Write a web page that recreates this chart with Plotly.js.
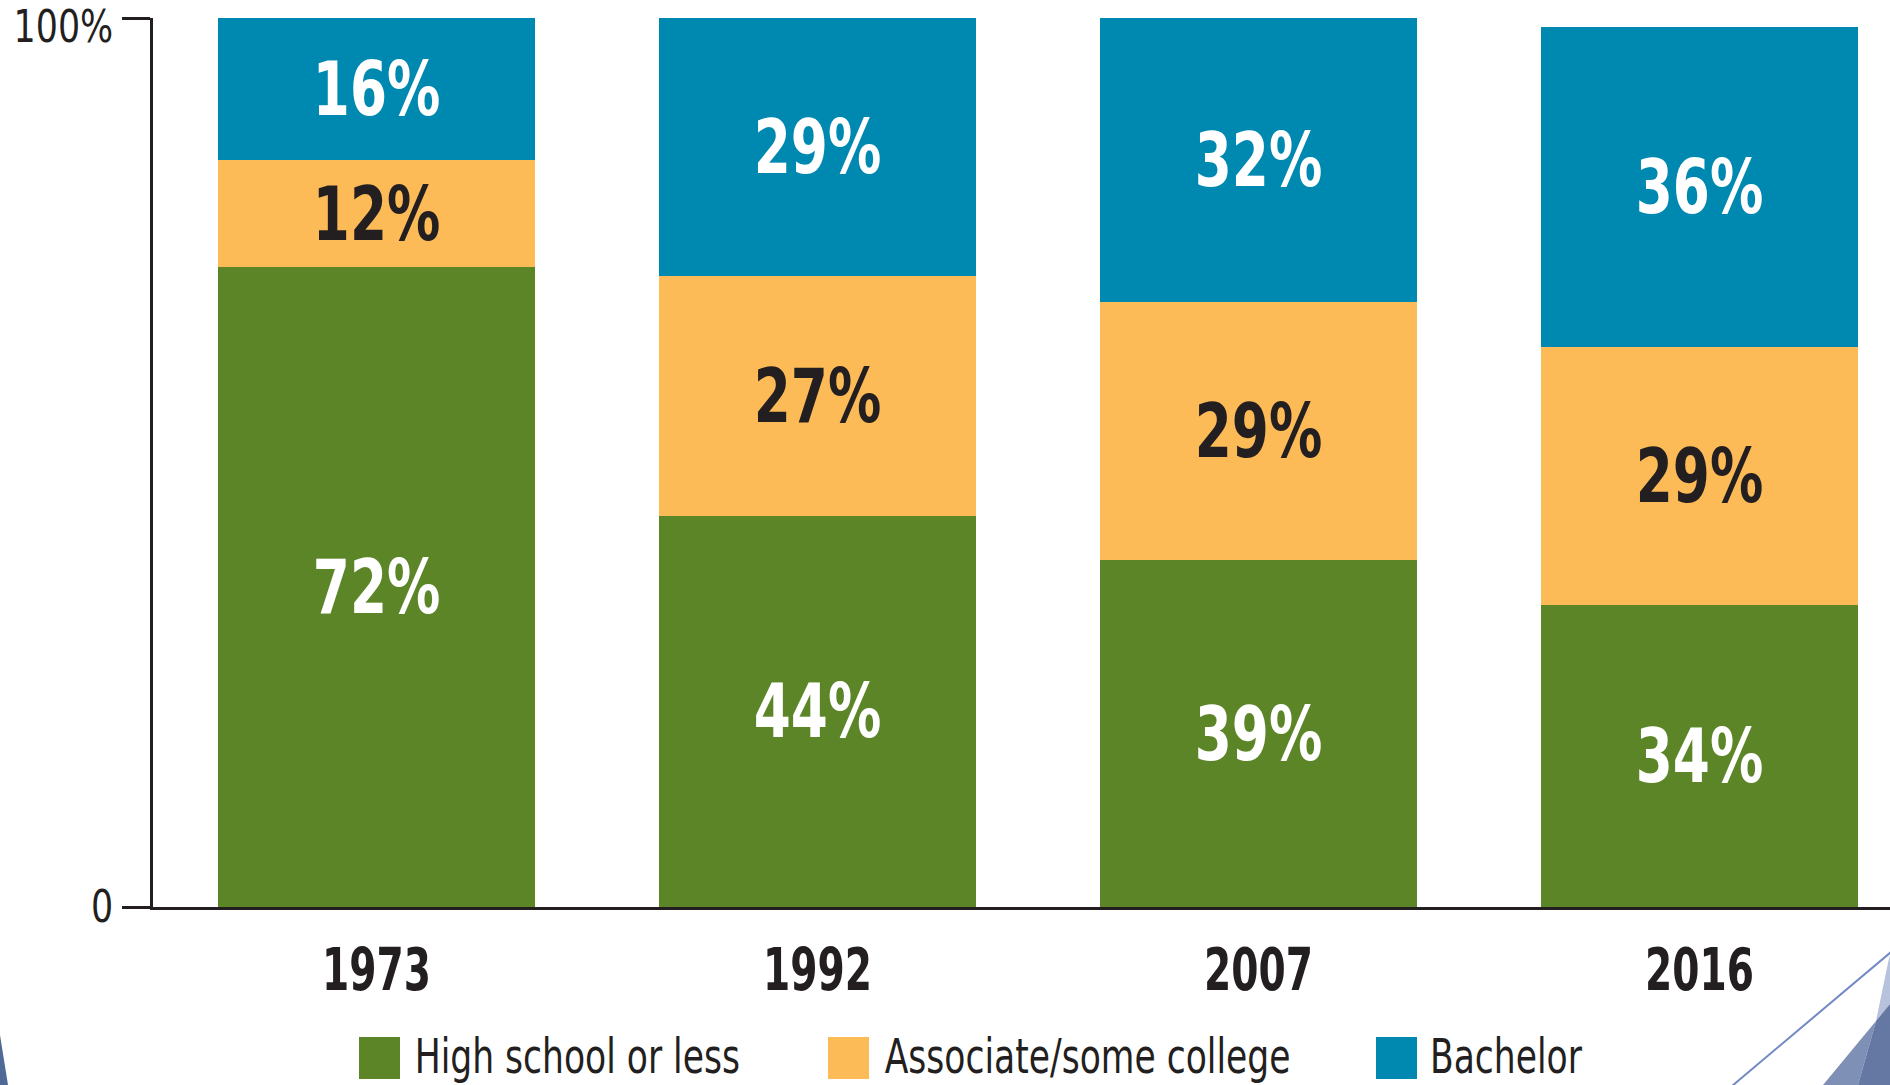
<!DOCTYPE html>
<html>
<head>
<meta charset="utf-8">
<script src="https://cdn.plot.ly/plotly-3.0.1.min.js"></script>
<style>
  html, body { margin: 0; padding: 0; background: #ffffff; }
  #chart { width: 1890px; height: 1085px; }
</style>
</head>
<body>
<div id="chart"></div>
<script>
// ---- data ----
var years = ['1973', '1992', '2007', '2016'];
var seriesNames = ['High school or less', 'Associate/some college', 'Bachelor'];
var highSchool = [72, 44, 39, 34];
var associate = [12, 27, 29, 29];
var bachelor = [16, 29, 32, 36];
var yTickVals = [0, 100];
var yTickText = ['0', '100%'];

// ---- styles ----
var colors = ['#5c8527', '#fcbb57', '#0089b0'];
var labelColors = ['#ffffff', '#231f20', '#ffffff'];
var ink = '#231f20';
var narrow = '"Liberation Sans Narrow", "Arial Narrow", "DejaVu Sans Condensed", sans-serif';

var W = 1890, H = 1085;
var M = { l: 153, r: 0, t: 18, b: 178 };
var plotW = W - M.l - M.r, plotH = H - M.t - M.b;
function px(x) { return (x - M.l) / plotW; }
function py(y) { return (H - M.b - y) / plotH; }

var seriesValues = [highSchool, associate, bachelor];
var traces = seriesValues.map(function (vals, i) {
  return {
    type: 'bar',
    name: seriesNames[i],
    x: years,
    y: vals,
    marker: { color: colors[i], line: { width: 0 } },
    texttemplate: '%{y}%',
    textposition: 'inside',
    insidetextanchor: 'middle',
    textangle: 0,
    constraintext: 'none',
    textfont: { family: narrow, size: 74, color: labelColors[i], weight: 'bold' },
    hoverinfo: 'skip'
  };
});

// legend built from the series names / colours
var legendSwatchX = [359, 828, 1376];
var legendTextCenter = [577, 1087, 1506];
var shapes = [];
var annotations = [];
seriesNames.forEach(function (name, i) {
  var x0 = legendSwatchX[i];
  shapes.push({
    type: 'rect', xref: 'paper', yref: 'paper',
    x0: px(x0), x1: px(x0 + 41), y0: py(1079), y1: py(1037),
    fillcolor: colors[i], line: { width: 0 }, layer: 'above'
  });
  annotations.push({
    xref: 'paper', yref: 'paper', x: px(legendTextCenter[i]), y: py(1056),
    xanchor: 'center', yanchor: 'middle', showarrow: false,
    text: name,
    font: { family: narrow, size: 48, color: ink }
  });
});

// decorative slide corners
function pathFrom(pts) {
  return 'M' + pts.map(function (p) { return px(p[0]) + ',' + py(p[1]); }).join('L') + 'Z';
}
shapes.push({ type: 'path', xref: 'paper', yref: 'paper', path: pathFrom([[0, 1035], [8, 1085], [0, 1085]]), fillcolor: '#4f6a96', line: { width: 0 } });
shapes.push({ type: 'path', xref: 'paper', yref: 'paper', path: pathFrom([[1823, 1085], [1876, 1021], [1858, 1085]]), fillcolor: '#7f90b6', line: { width: 0 } });
shapes.push({ type: 'path', xref: 'paper', yref: 'paper', path: pathFrom([[1876, 1021], [1888, 963], [1890, 955], [1890, 1004]]), fillcolor: '#b7c2dd', line: { width: 0 } });
shapes.push({ type: 'path', xref: 'paper', yref: 'paper', path: pathFrom([[1858, 1085], [1876, 1021], [1890, 1004], [1890, 1085]]), fillcolor: '#6577a3', line: { width: 0 } });
shapes.push({ type: 'line', xref: 'paper', yref: 'paper', x0: px(1732), y0: py(1086), x1: px(1891), y1: py(952), line: { color: '#7189c4', width: 2 } });

var layout = {
  width: W, height: H,
  margin: { l: M.l, r: M.r, t: M.t, b: M.b, pad: 0 },
  paper_bgcolor: '#ffffff',
  plot_bgcolor: '#ffffff',
  barmode: 'stack',
  bargap: 0.281,
  showlegend: false,
  xaxis: {
    type: 'category',
    range: [-0.507, 3.432],
    showline: true, linecolor: ink, linewidth: 3,
    ticks: '', showgrid: false, zeroline: false,
    ticklabelstandoff: 10,
    tickfont: { family: narrow, size: 58, color: ink, weight: 'bold' }
  },
  yaxis: {
    range: [0, 100],
    tickvals: yTickVals, ticktext: yTickText,
    ticks: 'outside', ticklen: 28, tickwidth: 3, tickcolor: ink,
    showline: true, linecolor: ink, linewidth: 3,
    showgrid: false, zeroline: false,
    ticklabelstandoff: 0,
    ticklabeloverflow: 'allow',
    tickfont: { family: narrow, size: 44, color: ink }
  },
  shapes: shapes,
  annotations: annotations
};

// horizontally condense the text to mimic the condensed typeface of the original
function condense(selector, factor) {
  document.querySelectorAll(selector).forEach(function (t) {
    var w = t.getComputedTextLength();
    if (w > 0) {
      t.setAttribute('lengthAdjust', 'spacingAndGlyphs');
      t.setAttribute('textLength', (w * factor).toFixed(2));
    }
  });
}

// keep the top tick label inside the page, as in the original
function keepInside(selector) {
  var svgTop = document.querySelector('#chart .main-svg').getBoundingClientRect().top;
  document.querySelectorAll(selector).forEach(function (t) {
    var top = t.getBoundingClientRect().top - svgTop;
    if (top < 1) {
      var tr = t.getAttribute('transform') || '';
      t.setAttribute('transform', tr + ' translate(0,' + (1 - top).toFixed(2) + ')');
    }
  });
}

Plotly.newPlot('chart', traces, layout, { displayModeBar: false, staticPlot: true }).then(function () {
  condense('#chart .bartext', 0.8);
  condense('#chart .xtick text', 0.75);
  condense('#chart .ytick text', 0.88);
  condense('#chart .annotation-text', 0.8);
  keepInside('#chart .ytick text');
});
</script>
</body>
</html>
